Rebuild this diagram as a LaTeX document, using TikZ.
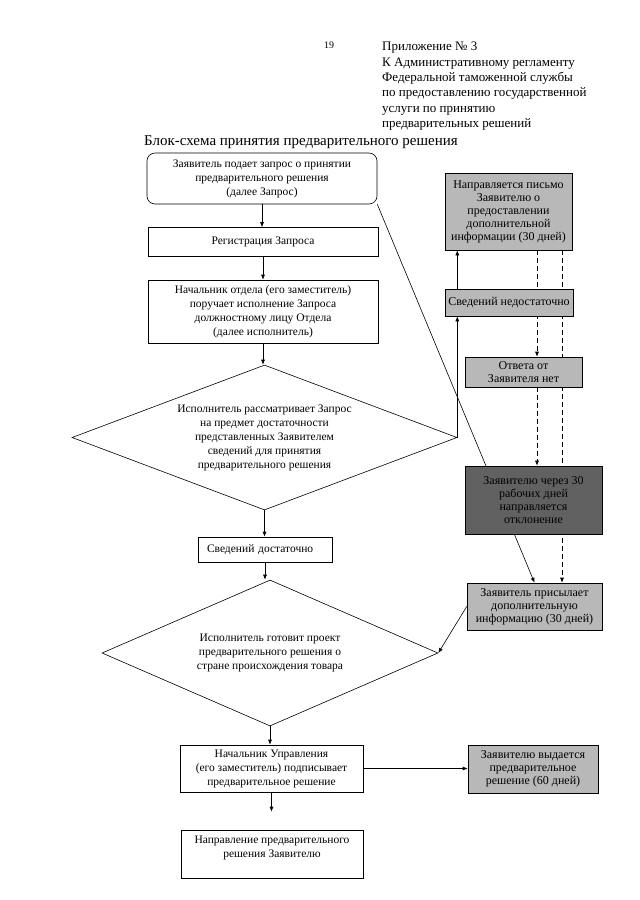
\documentclass[tikz,border=0pt]{standalone}
\usepackage{fontspec}
\setmainfont{Liberation Serif}
\usetikzlibrary{shapes.geometric, arrows.meta, backgrounds}

\begin{document}
\begin{tikzpicture}[x=1pt, y=-1pt,
  box/.style={draw, line width=0.6pt, align=center, inner sep=1pt, font=\fontsize{11.5}{14}\selectfont},
  gbox/.style={box, fill=black!28, font=\fontsize{12}{13}\selectfont},
  dbox/.style={gbox, fill=black!62},
  rhomb/.style={draw, line width=0.6pt, diamond, aspect=2.6, align=center, inner sep=0pt, font=\fontsize{11.5}{14}\selectfont},
  flow/.style={-{Latex[length=5pt, width=4pt]}, line width=0.6pt},
  dflow/.style={flow, dash pattern=on 5pt off 3pt}]

\useasboundingbox (0,0) rectangle (640,900);

% Header
\node[font=\fontsize{10}{12}\selectfont] (page) at (329,45) {19};
\node[anchor=north west, align=left, inner sep=0pt, font=\fontsize{13}{15.3}\selectfont] (hdr) at (382,42)
  {Приложение № 3\\К Административному регламенту\\Федеральной таможенной службы\\по предоставлению государственной\\услуги по принятию\\предварительных решений};
\node[anchor=west, inner sep=0pt, font=\fontsize{15}{18}\selectfont] (title) at (144,142) {Блок-схема принятия предварительного решения};

% Main column
\node[box, rounded corners=8pt, minimum width=230pt, minimum height=51pt] (zap) at (262,178.5)
  {Заявитель подает запрос о принятии\\предварительного решения\\(далее Запрос)};
\node[box, minimum width=230pt, minimum height=29pt] (reg) at (263,242) {Регистрация Запроса};
\node[box, minimum width=230pt, minimum height=63pt] (nach) at (263,311.5)
  {Начальник отдела (его заместитель)\\поручает исполнение Запроса\\должностному лицу Отдела\\(далее исполнитель)};
\node[rhomb, minimum width=385pt, minimum height=145pt] (d1) at (264.5,437.5)
  {Исполнитель рассматривает Запрос\\на предмет достаточности\\представленных Заявителем\\сведений для принятия\\предварительного решения};
\node[box, minimum width=134pt, minimum height=25pt, text width=116pt, align=left] (dost) at (265,549.5) {Сведений достаточно};
\node[rhomb, minimum width=336pt, minimum height=146pt] (d2) at (270,653)
  {Исполнитель готовит проект\\предварительного решения о\\стране происхождения товара};
\node[box, minimum width=183pt, minimum height=47pt] (nu) at (271.5,768.5)
  {Начальник Управления\\(его заместитель) подписывает\\предварительное решение};
\node[box, minimum width=182pt, minimum height=48pt] (napr) at (272,854)
  {Направление предварительного\\решения Заявителю\\\mbox{}};

% Right column
\node[gbox, minimum width=127pt, minimum height=77pt] (pis) at (508.5,211.5)
  {Направляется письмо\\Заявителю о\\предоставлении\\дополнительной\\информации (30 дней)};
\node[gbox, minimum width=128pt, minimum height=27pt] (ned) at (509,302.5) {Сведений недостаточно};
\node[gbox, minimum width=117pt, minimum height=30pt] (otv) at (523.5,372) {Ответа от\\Заявителя нет};
\node[dbox, minimum width=137pt, minimum height=68pt] (otk) at (533.5,500)
  {Заявителю через 30\\рабочих дней\\направляется\\отклонение};
\node[gbox, minimum width=135pt, minimum height=47pt] (prs) at (534.5,606.5)
  {Заявитель присылает\\дополнительную\\информацию (30 дней)};
\node[gbox, minimum width=130pt, minimum height=48pt] (vyd) at (533,769)
  {Заявителю выдается\\предварительное\\решение (60 дней)};

\coordinate (dl) at (537,0);
\coordinate (dr) at (562,0);

\begin{scope}[on background layer]
\draw[flow] (zap.south) -- (zap.south |- reg.north);
\draw[flow] (reg.south) -- (reg.south |- nach.north);
\draw[flow] (nach.south) -- (nach.south |- d1.north);
\draw[flow] (d1.south) -- (d1.south |- dost.north);
\draw[flow] (dost.south) -- (dost.south |- d2.north);
\draw[flow] (d2.south) -- (d2.south |- nu.north);
\draw[flow, shorten >=18pt] (nu.south) -- (nu.south |- napr.north);
\draw[flow] (nu.east) -- (nu.east -| vyd.west);
\draw[flow] (d1.east) -- (d1.east |- ned.south);
\draw[flow] (d1.east |- ned.north) -- (d1.east |- pis.south);
\draw[flow] (zap.south east) -- (prs.north);
\draw[flow] (prs.west) -- (d2.east);
\draw[dflow] (dl |- pis.south) -- (dl |- otv.north);
\draw[dflow] (dl |- otv.south) -- (dl |- otk.north);
\draw[dflow] (dr |- pis.south) -- (dr |- prs.north);
\end{scope}

\end{tikzpicture}
\end{document}
